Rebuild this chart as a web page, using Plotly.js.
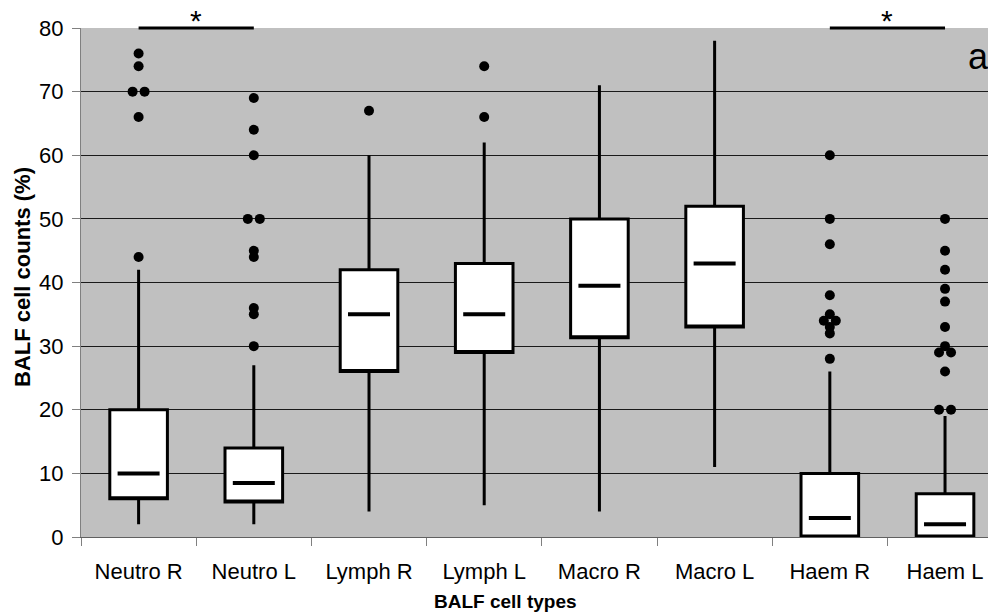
<!DOCTYPE html>
<html>
<head>
<meta charset="utf-8">
<script src="https://cdn.plot.ly/plotly-3.0.1.min.js"></script>
<style>html,body{margin:0;padding:0;background:#fff;}#chart{width:988px;height:613px;}</style>
</head>
<body>
<div id="chart"></div>
<script>
// ---- data ----
const categories = ["Neutro R", "Neutro L", "Lymph R", "Lymph L", "Macro R", "Macro L", "Haem R", "Haem L"];
const q1Values     = [6, 5.5, 26, 29, 31.3, 33, 0, 0];
const medianValues = [10, 8.5, 35, 35, 39.5, 43, 3, 2];
const q3Values     = [20, 14, 42, 43, 50, 52, 10, 6.8];
const lowWhisker   = [2, 2, 4, 5, 4, 11, 0, 0];
const highWhisker  = [42, 27, 60, 62, 71, 78, 26, 19];
const outlierValues = [
  [44, 66, 70, 70, 74, 76],
  [30, 35, 36, 44, 45, 50, 50, 60, 64, 69],
  [67],
  [66, 74],
  [],
  [],
  [28, 32, 33, 34, 34, 35, 38, 46, 50, 60],
  [20, 20, 26, 29, 29, 30, 33, 37, 39, 42, 45, 50]
];
const sigPairs = [[0, 1], [6, 7]];
const sigLevel = 80;
const sigLabel = "*";
const panelLabel = "a";
const yTickValues = [0, 10, 20, 30, 40, 50, 60, 70, 80];

// ---- build traces ----
const FONT = '"Liberation Sans", Arial, sans-serif';
const xRange = [-0.5, 7.373];
const yRange = [0, 80];

const boxTrace = {
  type: 'box',
  x: categories,
  q1: q1Values,
  median: q1Values,            // median drawn separately as a short bar
  q3: q3Values,
  lowerfence: lowWhisker,
  upperfence: highWhisker,
  boxpoints: false,
  width: 0.5,
  whiskerwidth: 0,
  fillcolor: '#ffffff',
  line: {color: '#000000', width: 3},
  hoverinfo: 'skip',
  showlegend: false
};

const idx = categories.map((c, i) => i);

const medianTrace = {
  type: 'scatter', mode: 'markers',
  x: idx, y: medianValues, xaxis: 'x2', yaxis: 'y',
  marker: {symbol: 'line-ew', size: 30, color: '#000', line: {color: '#000', width: 4}},
  hoverinfo: 'skip', showlegend: false, cliponaxis: false
};

// outliers: identical values are spread side by side
const ox = [], oy = [];
outlierValues.forEach((vals, i) => {
  const counts = {};
  vals.forEach(v => { counts[v] = (counts[v] || 0) + 1; });
  const seen = {};
  vals.forEach(v => {
    const n = counts[v];
    const k = seen[v] || 0;
    seen[v] = k + 1;
    const step = 0.104;
    ox.push(i + (k - (n - 1) / 2) * step);
    oy.push(v);
  });
});
const outlierTrace = {
  type: 'scatter', mode: 'markers',
  x: ox, y: oy, xaxis: 'x2', yaxis: 'y',
  marker: {symbol: 'circle', size: 10, color: '#000'},
  hoverinfo: 'skip', showlegend: false, cliponaxis: false
};

// significance bars at the top of the y range (paper y so they are not clipped)
const shapes = sigPairs.map(p => ({
  type: 'line', xref: 'x', yref: 'paper',
  x0: p[0], x1: p[1],
  y0: (sigLevel - yRange[0]) / (yRange[1] - yRange[0]),
  y1: (sigLevel - yRange[0]) / (yRange[1] - yRange[0]),
  line: {color: '#000', width: 3}, layer: 'above'
}));

const annotations = sigPairs.map(p => ({
  xref: 'x2', yref: 'y', x: (p[0] + p[1]) / 2, y: sigLevel,
  text: sigLabel, showarrow: false, yanchor: 'bottom', yshift: -11,
  font: {family: FONT, size: 30, color: '#000'}
}));
annotations.push({
  xref: 'paper', yref: 'paper', x: (966 - 81) / 907, y: 1 - (56 - 28) / 509,
  xanchor: 'left', yanchor: 'middle', text: panelLabel, showarrow: false,
  font: {family: FONT, size: 36, color: '#000'}
});
annotations.push({
  xref: 'paper', yref: 'paper', x: (505 - 81) / 907, y: -(601 - 537) / 509,
  xanchor: 'center', yanchor: 'middle', text: '<b>BALF cell types</b>', showarrow: false,
  font: {family: FONT, size: 19, color: '#000'}
});
annotations.push({
  xref: 'paper', yref: 'paper', x: -(81 - 22) / 907, y: 1 - (277 - 28) / 509,
  xanchor: 'center', yanchor: 'middle', textangle: -90, text: '<b>BALF cell counts (%)</b>', showarrow: false,
  font: {family: FONT, size: 22, color: '#000'}
});

const layout = {
  width: 988, height: 613,
  margin: {l: 81, r: 0, t: 28, b: 76, pad: 0},
  paper_bgcolor: '#ffffff',
  plot_bgcolor: '#c0c0c0',
  font: {family: FONT, size: 22, color: '#000'},
  showlegend: false,
  xaxis: {
    type: 'category', categoryorder: 'array', categoryarray: categories,
    range: xRange, tickson: 'boundaries', ticks: 'outside', ticklen: 8, tickwidth: 1,
    tickcolor: '#808080', showgrid: false, zeroline: false,
    showline: true, linecolor: '#606060', linewidth: 1,
    tickfont: {family: FONT, size: 22, color: '#000'}, ticklabelstandoff: 15,
    fixedrange: true
  },
  xaxis2: {
    overlaying: 'x', anchor: 'y', range: xRange, visible: false, fixedrange: true
  },
  yaxis: {
    range: yRange, tickvals: yTickValues, ticktext: yTickValues.map(String),
    ticks: 'outside', ticklen: 8, tickwidth: 1, tickcolor: '#808080',
    showgrid: true, gridcolor: '#1a1a1a', gridwidth: 1, zeroline: false,
    showline: true, linecolor: '#808080', linewidth: 1,
    tickfont: {family: FONT, size: 22, color: '#000'}, ticklabelstandoff: 4,
    fixedrange: true
  },
  shapes: shapes,
  annotations: annotations
};

Plotly.newPlot('chart', [boxTrace, medianTrace, outlierTrace], layout, {staticPlot: true, displayModeBar: false});
</script>
</body>
</html>
